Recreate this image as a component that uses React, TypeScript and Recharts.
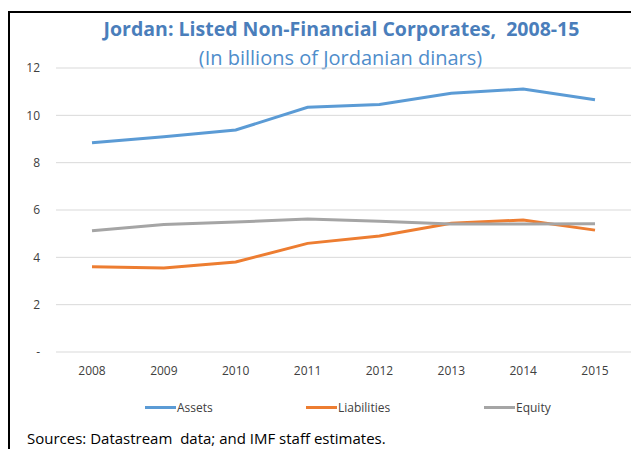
import { CartesianGrid, Line, LineChart, XAxis, YAxis } from 'recharts'

const years = ['2008', '2009', '2010', '2011', '2012', '2013', '2014', '2015']
const assets = [8.84, 9.1, 9.38, 10.34, 10.46, 10.93, 11.11, 10.66]
const liabilities = [3.6, 3.55, 3.8, 4.59, 4.9, 5.44, 5.58, 5.15]
const equity = [5.12, 5.39, 5.49, 5.62, 5.52, 5.41, 5.41, 5.42]
const yTicks = [0, 2, 4, 6, 8, 10, 12]

const series = [
  { key: 'Assets', color: '#5B9BD5' },
  { key: 'Liabilities', color: '#ED7D31' },
  { key: 'Equity', color: '#A5A5A5' },
]

const data = years.map((year, i) => ({
  year,
  Assets: assets[i],
  Liabilities: liabilities[i],
  Equity: equity[i],
}))

const font = "'Open Sans', 'Noto Sans', sans-serif"
const tickStyle = { fontSize: 12, fill: '#404040', fontFamily: font }

// legend sits under the plot like Excel's, items at fixed slots
function LegendRow() {
  const slots = [145, 306, 484]
  return (
    <div style={{ position: 'absolute', top: 398, left: 0, fontFamily: font, fontSize: 12, color: '#404040' }}>
      {series.map((s, i) => (
        <div key={s.key} style={{ position: 'absolute', left: slots[i], top: 0, display: 'flex', alignItems: 'center', height: 18, whiteSpace: 'nowrap' }}>
          <span style={{ display: 'inline-block', width: 31, height: 3, background: s.color, marginRight: 1 }} />
          <span>{s.key}</span>
        </div>
      ))}
    </div>
  )
}

export default function App() {
  return (
    <div style={{ position: 'absolute', left: 0, top: 0, width: 631, height: 449, background: '#fff', overflow: 'hidden' }}>
      <div style={{ position: 'absolute', left: 8, top: 11, width: 623, height: 438, borderLeft: '2px solid #000', borderTop: '2px solid #000' }} />
      <div style={{ position: 'absolute', left: 0, width: 683, top: 15, textAlign: 'center', fontFamily: font, fontWeight: 700, fontSize: 19.5, color: '#4A7EBB', whiteSpace: 'nowrap' }}>
        Jordan: Listed Non-Financial Corporates,&nbsp; 2008-15
      </div>
      <div style={{ position: 'absolute', left: 0, width: 681, top: 44, textAlign: 'center', fontFamily: font, fontSize: 20, color: '#4F8DCB', whiteSpace: 'nowrap' }}>
        (In billions of Jordanian dinars)
      </div>
      <LineChart width={631} height={449} data={data} margin={{ top: 68, right: 0, bottom: 67, left: 0 }}>
        <CartesianGrid vertical={false} stroke="#D9D9D9" />
        <XAxis
          dataKey="year"
          axisLine={false}
          tickLine={false}
          tick={tickStyle}
          tickMargin={8}
          height={30}
          padding={{ left: 36, right: 36 }}
        />
        <YAxis
          domain={[0, 12]}
          ticks={yTicks}
          axisLine={false}
          tickLine={false}
          tick={tickStyle}
          tickMargin={10}
          width={56}
          tickFormatter={(v: number) => (v === 0 ? '-' : String(v))}
        />
        {series.map((s) => (
          <Line key={s.key} dataKey={s.key} stroke={s.color} strokeWidth={3} dot={false} isAnimationActive={false} />
        ))}
      </LineChart>
      <LegendRow />
      <div style={{ position: 'absolute', left: 27, top: 428, fontFamily: font, fontSize: 15, color: '#000', whiteSpace: 'nowrap' }}>
        Sources: Datastream&nbsp; data; and IMF staff estimates.
      </div>
    </div>
  )
}
